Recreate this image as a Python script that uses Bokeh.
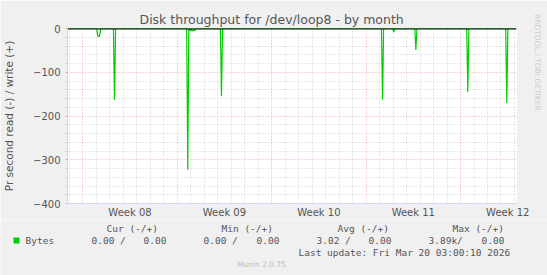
import math
from bokeh.plotting import figure
from bokeh.layouts import column
from bokeh.models import FixedTicker, LinearAxis
from bokeh.core.properties import value
from bokeh.embed import file_html
from bokeh.resources import INLINE

# ---------------- data ----------------
# time in days relative to Mon Feb 16 2026 00:00 (start of Week 08)
days = [-1.13, 1.02, 1.12, 1.24, 1.34, 2.27, 2.35, 2.43, 7.70, 7.78, 7.86,
        7.95, 8.03, 8.12, 8.20, 8.30, 8.38, 10.20, 10.28, 10.36, 22.14, 22.22,
        22.30, 22.97, 23.05, 23.13, 23.84, 23.92, 24.00, 24.61, 24.69, 24.77,
        28.46, 28.54, 28.62, 31.35, 31.43, 31.51, 32.12]
read_bytes = [0, 0, -18, -18, 0, 0, -163, 0, 0, -323, 0,
              -5, -2, -6, -3, -5, 0, 0, -155, 0, 0, -163,
              0, 0, -8, 0, 0, -2, 0, 0, -49, 0,
              0, -145, 0, 0, -170, 0, 0]
write_bytes = [0] * len(days)

week_starts = [0, 7, 14, 21, 28]
week_labels = ["Week 08", "Week 09", "Week 10", "Week 11", "Week 12"]
y_ticks = [0, -100, -200, -300, -400]

title = "Disk throughput for /dev/loop8 - by month"
y_label = "Pr second read (-) / write (+)"
series_name = ["Bytes"]
stat_headers = ["Cur (-/+)", "Min (-/+)", "Avg (-/+)", "Max (-/+)"]
stat_read = ["0.00 /", "0.00 /", "3.02 /", "3.89k/"]
stat_write = ["0.00", "0.00", "0.00", "0.00"]
last_update = ["Last update: Fri Mar 20 03:00:10 2026"]
footer = ["Munin 2.0.75"]
watermark = "RRDTOOL / TOBI OETIKER"

# ---------------- layout ----------------
W, H = 547, 275
TOPH = 220
FL, FR, FT, FB = 67, 516, 28, 203
X0, X1 = -1.134, 32.15
Y0, Y1 = -400, 0

FONT = "DejaVu Sans"
MONO = "DejaVu Sans Mono"
TXT = "#555555"
AXISC = "#CFD6F8"
REDG = "#EBA8A8"
GRAYG = "#CFCFCF"
BG = "#F0F0F0"

p = figure(width=W, height=TOPH, output_backend="svg", toolbar_location=None,
           x_range=(X0, X1), y_range=(Y0, Y1),
           min_border_left=FL, min_border_right=W - FR,
           min_border_top=FT, min_border_bottom=TOPH - FB)
p.background_fill_color = "#FFFFFF"
p.border_fill_color = BG
p.outline_line_color = None

p.title.text = title
p.title.text_font = FONT
p.title.text_font_size = "12.5px"
p.title.text_font_style = "normal"
p.title.text_color = TXT
p.title.align = "left"
p.title.offset = 72
p.title.standoff = 3

# grids
mid_weeks = [w + 3.5 for w in week_starts]
day_ticks = [d for d in range(-1, 33) if d not in week_starts]
y_minor = [v for v in range(-380, 0, 20) if v % 100 != 0]
p.xgrid.ticker = FixedTicker(ticks=week_starts, minor_ticks=day_ticks)
p.xgrid.grid_line_color = REDG
p.xgrid.grid_line_dash = "1 2"
p.xgrid.minor_grid_line_color = GRAYG
p.xgrid.minor_grid_line_dash = "1 2"
p.ygrid.ticker = FixedTicker(ticks=y_ticks, minor_ticks=y_minor)
p.ygrid.grid_line_color = REDG
p.ygrid.grid_line_dash = "1 2"
p.ygrid.minor_grid_line_color = GRAYG
p.ygrid.minor_grid_line_dash = "1 2"

# axes
xa = p.xaxis[0]
xa.ticker = FixedTicker(ticks=mid_weeks)
xa.major_label_overrides = {m: l for m, l in zip(mid_weeks, week_labels)}
xa.major_tick_line_color = None
xa.minor_tick_line_color = None
xa.major_tick_out = 0
xa.major_tick_in = 0
xa.minor_tick_out = 0
xa.minor_tick_in = 0
xa.axis_line_color = AXISC
xa.major_label_text_font = FONT
xa.major_label_text_font_size = "10px"
xa.major_label_text_color = TXT
xa.major_label_standoff = 3

ya = p.yaxis[0]
ya.ticker = FixedTicker(ticks=y_ticks, minor_ticks=y_minor)
ya.axis_line_color = AXISC
ya.major_tick_line_color = REDG
ya.major_tick_in = 0
ya.major_tick_out = 2
ya.minor_tick_line_color = GRAYG
ya.minor_tick_in = 0
ya.minor_tick_out = 2
ya.major_label_text_font = FONT
ya.major_label_text_font_size = "10px"
ya.major_label_text_color = TXT
ya.major_label_standoff = 5
ya.axis_label = y_label
ya.axis_label_text_font = FONT
ya.axis_label_text_font_size = "10.5px"
ya.axis_label_text_font_style = "normal"
ya.axis_label_text_color = TXT
ya.axis_label_standoff = 15

# watermark on the right; trailing no-break spaces lift it toward the top
ra = LinearAxis(ticker=FixedTicker(ticks=[]), axis_line_color=None,
                major_tick_line_color=None, minor_tick_line_color=None,
                major_tick_out=0, minor_tick_out=0,
                major_label_text_font_size="0px",
                axis_label=watermark + "\u00a0" * 45, axis_label_text_font=FONT,
                axis_label_text_font_size="7.5px", axis_label_text_font_style="normal",
                axis_label_text_color="#CCCCCC", axis_label_standoff=16)
p.add_layout(ra, "right")

p.line(days, write_bytes, line_color="#00CC00", line_width=1)
p.line(days, read_bytes, line_color="#00CC00", line_width=1.2)
p.line([X0, X1], [0, 0], line_color="#000000", line_width=2)

# ---------------- legend panel ----------------
LH = H - TOPH
q = figure(width=W, height=LH, output_backend="svg", toolbar_location=None,
           x_range=(0, W), y_range=(H, TOPH), min_border=0)
q.axis.visible = False
q.grid.visible = False
q.outline_line_color = None
q.background_fill_color = BG
q.border_fill_color = BG
q.title.visible = False

mono = dict(text_font=value(MONO), text_font_size="9.5px", text_color=TXT,
            text_baseline="middle")
q.rect(x=[16], y=[240], width=6, height=6, fill_color="#00CC00", line_color=None)
q.text(x=[25], y=[240], text=series_name, text_align="left", **mono)
head_x = [106, 221, 337, 452]
read_x = [91, 203, 316, 428]
write_end = [166, 279, 391, 504]
q.text(x=head_x, y=[228] * 4, text=stat_headers, text_align="left", **mono)
q.text(x=read_x, y=[240] * 4, text=stat_read, text_align="left", **mono)
q.text(x=write_end, y=[240] * 4, text=stat_write, text_align="right", **mono)
q.text(x=[298], y=[251.5], text=last_update, text_align="left", **mono)
q.text(x=[261], y=[264], text=footer, text_font=value(FONT), text_font_size="7.5px",
       text_color="#BBBBBB", text_align="center", text_baseline="middle")

layout = column(p, column(q, spacing=0), spacing=0)
open("out.html", "w").write(file_html(layout, INLINE))
